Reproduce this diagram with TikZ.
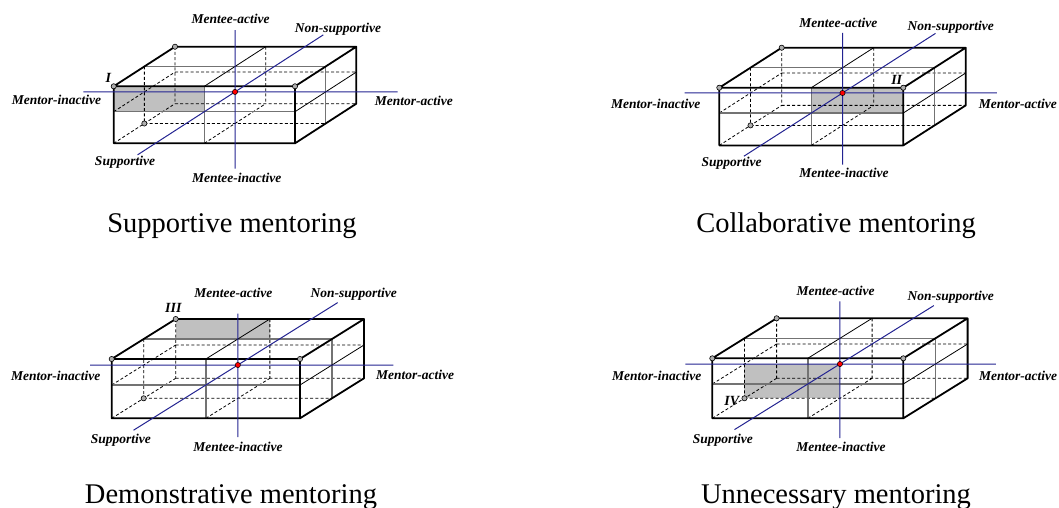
\documentclass[tikz,border=0pt]{standalone}
\usepackage{fontspec}
\setmainfont{Liberation Serif}
\usetikzlibrary{calc}
\definecolor{axisblue}{RGB}{35,35,145}
\definecolor{shade}{RGB}{192,192,192}
\definecolor{midgray}{RGB}{115,115,115}
\definecolor{dotgray}{RGB}{175,175,175}
\tikzset{
  edge/.style={black, line width=1.8pt, line cap=round, line join=round},
  inner/.style={black, line width=0.8pt},
  midline/.style={midgray, line width=1.6pt},
  hidden/.style={black, line width=0.8pt, dash pattern=on 3pt off 2.2pt},
  axis/.style={axisblue, line width=1pt},
  vertex/.style={circle, draw=black, fill=dotgray, line width=0.6pt, inner sep=0pt, minimum size=5.2pt},
  centre/.style={circle, draw=black, fill=red, line width=0.5pt, inner sep=0pt, minimum size=5.2pt},
  lab/.style={font=\bfseries\itshape\fontsize{13.5}{15}\selectfont, anchor=base, inner sep=0pt},
  roman/.style={font=\bfseries\itshape\fontsize{14}{15}\selectfont, anchor=base, inner sep=0pt},
  caption/.style={font=\fontsize{28.5}{31}\selectfont, anchor=base, inner sep=0pt},
  shadebox/.style={fill=shade, draw=none},
}
% #1 x0, #2 y0, #3 W, #4 Dx, #5 Dy, #6 h1, #7 H
\newcommand\boxcoords[7]{%
  \foreach \i in {0,1,2}{%
    \foreach \j/\yy in {0/0,1/#6,2/#7}{%
      \foreach \k in {0,1,2}{%
        \coordinate (p\i\j\k) at ({#1+\i*#3/2+\k*#4/2},{#2+\yy+\k*#5/2});
      }}}%
}
\newcommand\boxlines{%
  \draw[hidden] (p002)--(p022) (p102)--(p122) (p012)--(p212) (p022)--(p222)
    (p010)--(p012) (p020)--(p022) (p120)--(p122) (p021)--(p221) (p001)--(p021);
  \draw[midline] (p100)--(p120) (p010)--(p210) (p001)--(p201) (p201)--(p221);
  \draw[inner] (p100)--(p102) (p210)--(p212);
  \draw[edge] (p000)--(p200)--(p220)--(p020)--cycle
    (p000)--(p002)--(p202)--(p200) (p202)--(p222)--(p220);
}
% #1 up, #2 down, #3 left, #4 right, #5 diag back (neg), #6 diag front
\newcommand\boxaxes[6]{%
  \coordinate (c) at (p111);
  \coordinate (axT) at ($(c)+(0,-#1)$);
  \coordinate (axB) at ($(c)+(0,#2)$);
  \coordinate (axL) at ($(c)+(-#3,0)$);
  \coordinate (axR) at ($(c)+(#4,0)$);
  \coordinate (axF) at ($(c)!#5!(p112)$);
  \coordinate (axK) at ($(c)!#6!(p112)$);
  \draw[axis] (axT)--(axB) (axL)--(axR) (axF)--(axK);
}
\newcommand\boxdots{%
  \node[vertex] (va) at (p000) {};
  \node[vertex] (vb) at (p002) {};
  \node[vertex] (vc) at (p021) {};
  \node[vertex] (vd) at (p200) {};
  \node[centre] (ctr) at (p111) {};
}
\begin{document}
\begin{tikzpicture}[x=1pt,y=-1pt]
\useasboundingbox (0,0) rectangle (1059,508);

% ---------- Panel 1: Supportive ----------
\boxcoords{113.7}{86.3}{181.3}{61.3}{-39.6}{25.4}{57}
\fill[shadebox] (p000) rectangle (p110);
\boxlines
\boxaxes{61.7}{76.6}{151.7}{162.7}{-3.18}{2.88}
\boxdots
\node[roman] (r1) at (108.3,83) {I};
\node[lab] (a1) at (230.7,24) {Mentee-active};
\node[lab] (b1) at (338,32.7) {Non-supportive};
\node[lab] (c1) at (56.5,104.3) {Mentor-inactive};
\node[lab] (d1) at (413.8,106) {Mentor-active};
\node[lab] (e1) at (125,165.7) {Supportive};
\node[lab] (f1) at (236.7,182.7) {Mentee-inactive};
\node[caption] (t1) at (232,232.3) {Supportive mentoring};

% ---------- Panel 2: Collaborative ----------
\boxcoords{719.3}{87.7}{184}{62.4}{-40}{25.3}{57.7}
\fill[shadebox] (p100) rectangle (p210);
\boxlines
\boxaxes{60}{71.7}{158}{154.4}{-3.16}{2.98}
\boxdots
\node[roman] (r2) at (896.7,84.5) {II};
\node[lab] (a2) at (838.3,27.3) {Mentee-active};
\node[lab] (b2) at (950.8,30.7) {Non-supportive};
\node[lab] (c2) at (655.8,108.7) {Mentor-inactive};
\node[lab] (d2) at (1017.8,108.7) {Mentor-active};
\node[lab] (e2) at (731.7,166.7) {Supportive};
\node[lab] (f2) at (844,177.3) {Mentee-inactive};
\node[caption] (t2) at (836,232.3) {Collaborative mentoring};

% ---------- Panel 3: Demonstrative ----------
\boxcoords{111.7}{359}{188.3}{64}{-40}{26}{59.3}
\fill[shadebox] (p002) rectangle (p102 |- p001);
\boxlines
\boxaxes{51.4}{72}{147.7}{155.6}{-3.26}{3.12}
\boxdots
\node[roman] (r3) at (173.3,312.5) {III};
\node[lab] (a3) at (233.3,297.3) {Mentee-active};
\node[lab] (b3) at (353.7,297.3) {Non-supportive};
\node[lab] (c3) at (55.8,380.7) {Mentor-inactive};
\node[lab] (d3) at (415,379.3) {Mentor-active};
\node[lab] (e3) at (120.8,443.3) {Supportive};
\node[lab] (f3) at (238,451) {Mentee-inactive};
\node[caption] (t3) at (231,503.5) {Demonstrative mentoring};

% ---------- Panel 4: Unnecessary ----------
\boxcoords{712.3}{358.3}{191}{64.3}{-40}{25.7}{60}
\fill[shadebox] (p011) rectangle (p121);
\boxlines
\boxaxes{62.6}{74}{154.7}{156}{-3.28}{2.92}
\boxdots
\node[roman] (r4) at (731.7,405) {IV};
\node[lab] (a4) at (835.5,295.3) {Mentee-active};
\node[lab] (b4) at (950.7,300.7) {Non-supportive};
\node[lab] (c4) at (656.7,380.7) {Mentor-inactive};
\node[lab] (d4) at (1018,380.7) {Mentor-active};
\node[lab] (e4) at (722.8,443.3) {Supportive};
\node[lab] (f4) at (841,451) {Mentee-inactive};
\node[caption] (t4) at (836,503.5) {Unnecessary mentoring};
\end{tikzpicture}
\end{document}
